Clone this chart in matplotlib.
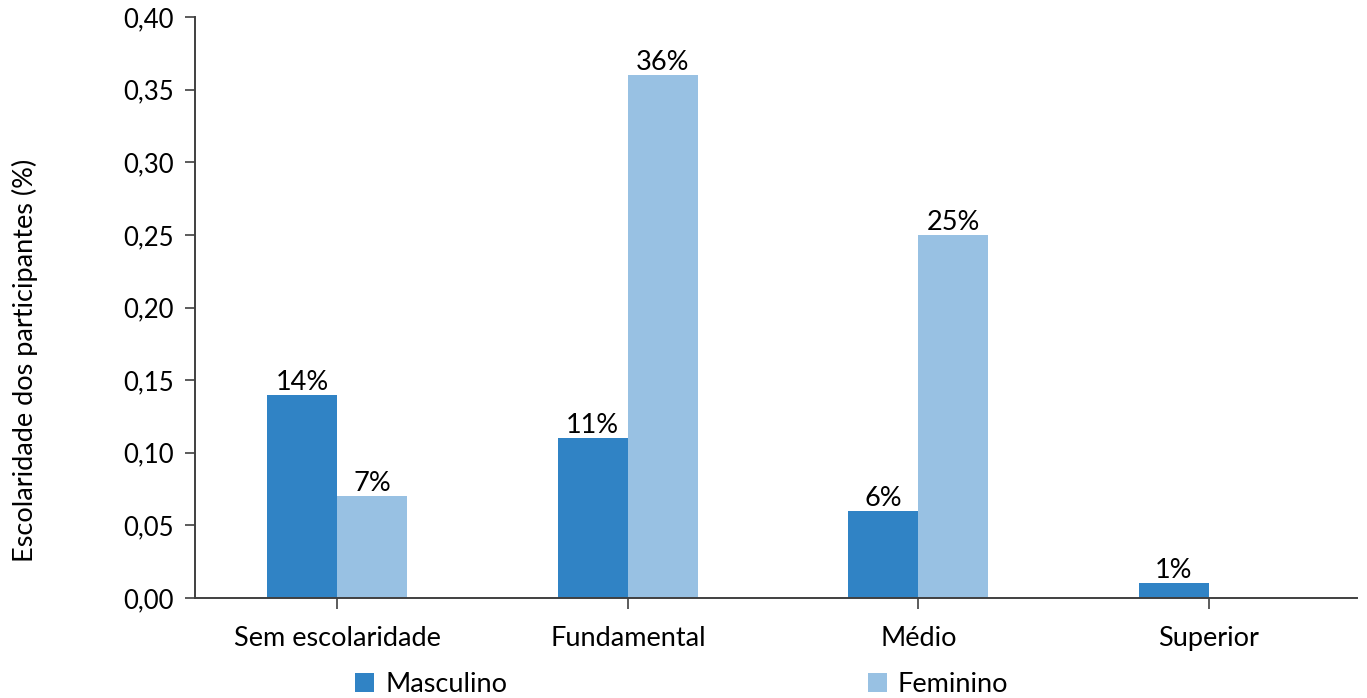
import matplotlib
matplotlib.use("Agg")
import matplotlib.pyplot as plt
import numpy as np

categories = ["Sem escolaridade", "Fundamental", "Médio", "Superior"]
masculino = [0.14, 0.11, 0.06, 0.01]
feminino = [0.07, 0.36, 0.25, 0.0]
yticks = [0.00, 0.05, 0.10, 0.15, 0.20, 0.25, 0.30, 0.35, 0.40]

plt.rcParams['font.family'] = ['Lato', 'DejaVu Sans']
FS = 19.5
FS_Y = 18.5
FS_LAB = 19.5
c_masc = "#3083C5"
c_fem = "#98C1E3"
spine_c = "#404040"
W, H = 1367, 698

fig = plt.figure(figsize=(W/100, H/100), dpi=100)
ax = fig.add_axes([195/W, 1-598/H, (1357-195)/W, (598-17)/H])

x = np.arange(len(categories))
w = 0.241
b1 = ax.bar(x - w/2, masculino, w, color=c_masc, label="Masculino", zorder=2)
b2 = ax.bar(x + w/2, feminino, w, color=c_fem, label="Feminino", zorder=2)

ax.bar_label(b1, labels=[f"{round(v*100)}%" if v > 0 else "" for v in masculino],
             fontsize=FS, padding=0)
ax.bar_label(b2, labels=[f"{round(v*100)}%" if v > 0 else "" for v in feminino],
             fontsize=FS, padding=0)

ax.set_xlim(-0.49, 3.51)
ax.set_ylim(0, 0.40)
ax.set_yticks(yticks)
ax.set_yticklabels([f"{v:.2f}".replace(".", ",") for v in yticks], fontsize=FS_Y)
ax.set_xticks(x)
ax.set_xticklabels(categories, fontsize=FS)
ax.tick_params(axis='y', direction='out', length=7, width=1.2, color=spine_c, pad=8)
ax.tick_params(axis='x', direction='out', length=8, width=1.2, color=spine_c, pad=12)

for s in ['top', 'right']:
    ax.spines[s].set_visible(False)
for s in ['left', 'bottom']:
    ax.spines[s].set_color(spine_c)
    ax.spines[s].set_linewidth(1.4)

ax.set_ylabel("Escolaridade dos participantes (%)", fontsize=FS_LAB)
ax.yaxis.set_label_coords((38-195)/(1357-195), (598-360)/(598-17))

fig.legend(handles=[b1, b2], labels=["Masculino", "Feminino"], loc='center left',
           bbox_to_anchor=(355/W, 1-684/H), ncol=2, frameon=False, fontsize=FS,
           borderpad=0, borderaxespad=0,
           handlelength=0.7, handleheight=0.7, handletextpad=0.42, columnspacing=13.3)

fig.savefig("out.png", dpi=100)
